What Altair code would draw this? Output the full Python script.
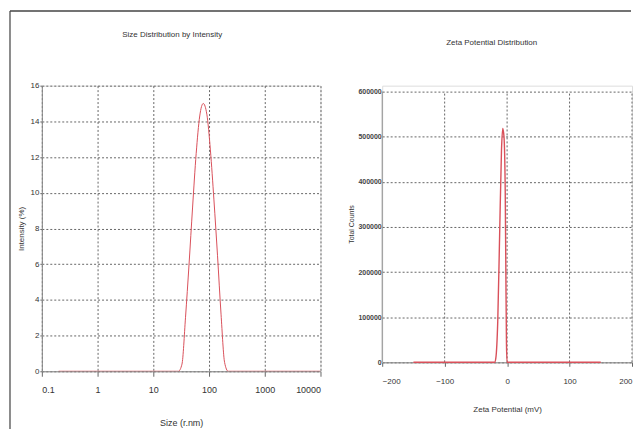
import altair as alt
import pandas as pd

# ---------------- data ----------------
size_nm = [0.2, 1, 10, 28.2, 32.7, 37.8, 43.8, 50.7, 58.8, 68.1, 78.8, 91.3,
           105.7, 122.4, 141.8, 164.2, 190.1, 220.2, 1000, 10000]
intensity_pct = [0, 0, 0, 0, 0.4, 3.0, 6.0, 9.2, 12.2, 14.3, 15.0, 14.4,
                 12.4, 9.6, 6.5, 3.2, 0.5, 0, 0, 0]

zeta_mv = [-150, -20, -18, -15, -12, -9, -7, -5, -3, -2, -1, 0, 150]
total_counts = [0, 0, 10000, 90000, 280000, 470000, 518000, 500000, 380000,
                200000, 40000, 0, 0]

size_ticks = [0.1, 1, 10, 100, 1000, 10000]
intensity_ticks = [0, 2, 4, 6, 8, 10, 12, 14, 16]
zeta_ticks = [-200, -100, 0, 100, 200]
zeta_grid = [-100, 0, 100, 200]
count_ticks = [0, 100000, 200000, 300000, 400000, 500000, 600000]
count_domain_max = 613000

left_title = "Size Distribution by Intensity"
right_title = "Zeta Potential Distribution"

FONT = "Liberation Sans, Arial, sans-serif"
RED = "#d9505a"
GRID = "#666666"
TXT = "#333333"

size_df = pd.DataFrame({"size": size_nm, "intensity": intensity_pct})
zeta_df = pd.DataFrame({"zeta": zeta_mv, "counts": total_counts})
one = pd.DataFrame({"k": [0]})

# ---------------- left panel ----------------
left_line = alt.Chart(size_df).mark_line(
    color=RED, strokeWidth=1, interpolate="monotone", clip=True
).encode(
    x=alt.X("size:Q",
            scale=alt.Scale(type="log", domain=[0.1, 10000], nice=False),
            axis=alt.Axis(values=size_ticks, format="~g", title="Size (r.nm)",
                          grid=True, gridColor=GRID, gridDash=[2, 2],
                          domainColor="#888888", tickColor=GRID, tickSize=5,
                          labelPadding=9, labelFontSize=9, labelFont=FONT,
                          labelColor=TXT, titleFont=FONT, titleFontSize=9,
                          titleFontWeight="normal", titleColor=TXT,
                          titlePadding=24)),
    y=alt.Y("intensity:Q",
            scale=alt.Scale(domain=[0, 16], nice=False),
            axis=alt.Axis(values=intensity_ticks, title="Intensity (%)",
                          grid=True, gridColor=GRID, gridDash=[2, 2],
                          domainColor="#888888", tickColor=GRID, tickSize=2,
                          labelPadding=1, labelFontSize=8, labelFont=FONT,
                          labelColor=TXT, titleFont=FONT, titleFontSize=8,
                          titleFontWeight="normal", titleColor=TXT,
                          titlePadding=5)),
)

frame_v = alt.Chart(one).mark_rule(color="#666666", strokeWidth=1.5).encode(
    x=alt.value(-32), y=alt.value(-75), y2=alt.value(345)
)
frame_h = alt.Chart(one).mark_rule(color="#444444", strokeWidth=1.5).encode(
    x=alt.value(-32), x2=alt.value(592), y=alt.value(-75)
)
left_title_mark = alt.Chart(one).mark_text(
    text=left_title, font=FONT, fontSize=8, color=TXT, baseline="middle",
    align="center"
).encode(x=alt.value(131), y=alt.value(-51))

left = alt.layer(frame_v, frame_h, left_title_mark, left_line).properties(
    width=280, height=287,
)

# ---------------- right panel ----------------
zeta_line = alt.Chart(zeta_df).mark_line(
    color=RED, strokeWidth=1.4, interpolate="monotone"
).encode(
    x=alt.X("zeta:Q", scale=alt.Scale(domain=[-200, 200], nice=False),
            axis=alt.Axis(values=zeta_ticks, title="Zeta Potential (mV)",
                          grid=False, domainColor="#888888", tickColor=GRID,
                          tickSize=4, labelPadding=11, labelFontSize=8,
                          labelFont=FONT, labelColor=TXT, titleFont=FONT,
                          titleFontSize=8, titleFontWeight="normal",
                          titleColor=TXT, titlePadding=20)),
    y=alt.Y("counts:Q", scale=alt.Scale(domain=[0, count_domain_max], nice=False),
            axis=alt.Axis(values=count_ticks, format="d", title="Total Counts",
                          grid=True, gridColor=GRID, gridDash=[2, 2],
                          domain=False, ticks=False, labelPadding=1,
                          labelFontSize=7, labelFont=FONT, labelColor="#444444",
                          labelFontWeight="bold", titleFont=FONT,
                          titleFontSize=7, titleFontWeight="normal",
                          titleColor=TXT, titlePadding=3)),
)

vgrid = alt.Chart(pd.DataFrame({"g": zeta_grid})).mark_rule(
    color=GRID, strokeDash=[2, 2], strokeWidth=1
).encode(x="g:Q", y=alt.datum(0), y2=alt.datum(600000))

yaxis_line = alt.Chart(one).mark_rule(color="#888888", strokeWidth=1).encode(
    x=alt.datum(-200), y=alt.datum(0), y2=alt.datum(600000)
)
right_title_mark = alt.Chart(one).mark_text(
    text=right_title, font=FONT, fontSize=8, color=TXT, baseline="middle",
    align="center"
).encode(x=alt.value(110), y=alt.value(-43))

right = alt.layer(vgrid, yaxis_line, right_title_mark, zeta_line).properties(
    width=251, height=278,
)

chart = alt.hconcat(left, right, spacing=62, bounds="flush",
                    padding={"left": 0, "top": 0, "right": 0, "bottom": 0}
).configure_view(stroke=None).configure(background="white")

chart.save("out.html", embed_options={"renderer": "svg", "actions": False})
